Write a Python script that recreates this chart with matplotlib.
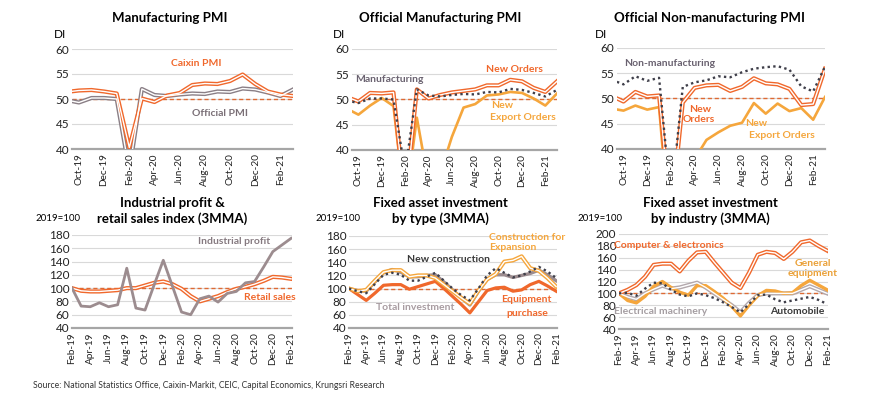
import numpy as np
import matplotlib
matplotlib.use('Agg')
import matplotlib.pyplot as plt

plt.rcParams['font.family'] = ['Lato', 'DejaVu Sans']

W, H = 870, 395

# ---- data ----
top_months = ['Sep-19', 'Oct-19', 'Nov-19', 'Dec-19', 'Jan-20', 'Feb-20', 'Mar-20',
              'Apr-20', 'May-20', 'Jun-20', 'Jul-20', 'Aug-20', 'Sep-20', 'Oct-20',
              'Nov-20', 'Dec-20', 'Jan-21', 'Feb-21', 'Mar-21']
bot_months = ['Feb-19', 'Mar-19', 'Apr-19', 'May-19', 'Jun-19', 'Jul-19', 'Aug-19',
              'Sep-19', 'Oct-19', 'Nov-19', 'Dec-19', 'Jan-20', 'Feb-20', 'Mar-20',
              'Apr-20', 'May-20', 'Jun-20', 'Jul-20', 'Aug-20', 'Sep-20', 'Oct-20',
              'Nov-20', 'Dec-20', 'Jan-21', 'Feb-21']

caixin_pmi = [51.4, 51.7, 51.8, 51.5, 51.1, 40.3, 50.1, 49.4, 50.7, 51.2, 52.8, 53.1,
              53.0, 53.6, 54.9, 53.0, 51.5, 50.9, 50.6]
official_pmi = [49.8, 49.3, 50.2, 50.2, 50.0, 35.7, 52.0, 50.8, 50.6, 50.9, 51.1, 51.0,
                51.5, 51.4, 52.1, 51.9, 51.3, 50.6, 51.9]
mfg_new_orders = [50.5, 49.6, 51.3, 51.2, 51.4, 29.3, 52.0, 50.2, 50.9, 51.4, 51.7, 52.0,
                  52.8, 52.8, 53.9, 53.6, 52.3, 51.5, 53.6]
mfg_export_orders = [48.2, 47.0, 48.8, 50.3, 48.7, 28.7, 46.4, 33.5, 35.3, 42.6, 48.4, 49.1,
                     50.8, 51.0, 51.5, 51.3, 50.2, 48.8, 51.2]
nonmfg_pmi = [53.7, 52.8, 54.4, 53.5, 54.1, 29.6, 52.3, 53.2, 53.6, 54.4, 54.2, 55.2,
              55.9, 56.2, 56.4, 55.7, 52.4, 51.4, 56.3]
nonmfg_new_orders = [50.5, 49.4, 51.3, 50.4, 50.6, 26.5, 49.2, 52.1, 52.6, 52.7, 51.5, 52.3,
                     54.0, 53.0, 52.8, 51.9, 48.7, 48.9, 55.9]
nonmfg_export_orders = [48.0, 47.6, 48.6, 47.8, 48.3, 20.8, 30.0, 38.0, 41.8, 43.3, 44.6, 45.2,
                        49.1, 47.0, 49.0, 47.5, 48.1, 45.8, 50.3]

industrial_profit = [100, 73, 72, 78, 72, 75, 130, 70, 67, 105, 142, 103, 64, 60, 84, 88,
                     79, 92, 95, 108, 110, 132, 155, 165, 175]
retail_sales = [100, 96, 95, 95, 96, 97, 100, 100, 104, 108, 110, 106, 99, 88, 80, 84,
                88, 94, 99, 102, 106, 111, 117, 116, 114]

fai_total = [100, 97, 96, 110, 124, 129, 125, 118, 118, 120, 121, 110, 98, 86, 75, 96,
             114, 121, 121, 117, 120, 123, 128, 121, 112]
fai_new_constr = [100, 96, 93, 107, 121, 124, 121, 112, 112, 118, 124, 112, 100, 90, 82, 100,
                  120, 131, 124, 117, 120, 126, 133, 126, 116]
fai_expansion = [100, 96, 98, 112, 125, 128, 128, 118, 120, 120, 116, 106, 96, 86, 77, 97,
                 114, 122, 141, 143, 149, 131, 127, 116, 103]
fai_equipment = [100, 91, 82, 93, 105, 106, 106, 99, 103, 107, 111, 100, 88, 76, 63, 80,
                 97, 101, 102, 96, 98, 106, 111, 104, 96]

fai_computer = [100, 106, 114, 128, 148, 150, 150, 137, 155, 169, 170, 152, 135, 118, 109, 135,
                165, 170, 168, 158, 170, 186, 189, 180, 172]
fai_general_eq = [100, 88, 84, 95, 112, 120, 110, 102, 97, 113, 113, 103, 92, 78, 62, 80,
                  96, 105, 104, 100, 101, 113, 122, 114, 106]
fai_electrical = [100, 94, 90, 100, 107, 113, 108, 110, 114, 118, 110, 100, 90, 80, 68, 84,
                  97, 100, 100, 100, 100, 106, 112, 106, 100]
fai_auto = [100, 101, 96, 108, 118, 117, 106, 98, 95, 100, 97, 92, 85, 77, 68, 82,
            97, 98, 90, 85, 88, 91, 94, 89, 82]

ORANGE = '#f0682c'
LIGHT = '#f5a63c'
TAUPE = '#9c8c8f'
DARK = '#3f3f4a'
LGRAY = '#b3a8ac'

fig = plt.figure(figsize=(W / 100, H / 100), dpi=100)


def px_axes(l, t, r, b):
    return fig.add_axes([l / W, 1 - b / H, (r - l) / W, (b - t) / H])


def ftext(x, y, s, **kw):
    kw.setdefault('ha', 'center')
    kw.setdefault('va', 'center')
    fig.text(x / W, 1 - y / H, s, **kw)


def style(ax, ylo, yhi, step, ref, labels, every, xlim):
    ax.set_ylim(ylo, yhi)
    ax.set_xlim(*xlim)
    ax.set_yticks(np.arange(ylo, yhi + 1, step))
    idx = np.arange(len(labels))
    ax.set_xticks(idx[every::2])
    ax.set_xticklabels([labels[i] for i in idx[every::2]], rotation=90, fontsize=7)
    ax.tick_params(length=0, labelsize=8.5, colors='#222222', pad=2)
    ax.tick_params(axis='x', labelsize=7.2, pad=3)
    ax.grid(axis='y', color='#d9d9d9', lw=0.8)
    ax.set_axisbelow(True)
    for s in ['top', 'right', 'left']:
        ax.spines[s].set_visible(False)
    ax.spines['bottom'].set_color('#a6a6a6')
    ax.spines['bottom'].set_linewidth(1.6)
    ax.axhline(ref, color='#de6a34', ls=(0, (3, 2)), lw=1.0, zorder=1.5)


def hollow(ax, x, y, color, w=3.0, inner=1.0):
    ax.plot(x, y, color=color, lw=w, zorder=3)
    ax.plot(x, y, color='white', lw=inner, zorder=3.1)


def solid(ax, x, y, color, w=2.0, z=3):
    ax.plot(x, y, color=color, lw=w, zorder=z)


def dotted(ax, x, y):
    ax.plot(x, y, color=DARK, lw=1.7, ls=(0, (1.0, 1.4)), dash_capstyle='butt', zorder=4)


xt = np.arange(len(top_months))
xb = np.arange(len(bot_months))
top_lim = (0.45, 18)
bot_lim = (0, 24.1)

# ---- Panel 1: Manufacturing PMI ----
ax1 = px_axes(72, 49, 293, 149)
style(ax1, 40, 60, 5, 50, top_months, 1, top_lim)
hollow(ax1, xt, official_pmi, '#8a7f86')
hollow(ax1, xt, caixin_pmi, ORANGE)
ftext(170, 18, 'Manufacturing PMI', fontsize=9.5, fontweight='bold')
ftext(54, 35, 'DI', fontsize=8.5, ha='left')
ftext(196, 63, 'Caixin PMI', fontsize=7.5, fontweight='bold', color=ORANGE)
ftext(220, 113, 'Official PMI', fontsize=7.5, fontweight='bold', color='#7a6f76')

# ---- Panel 2: Official Manufacturing PMI ----
ax2 = px_axes(352, 49, 557, 150)
style(ax2, 40, 60, 5, 50, top_months, 1, top_lim)
solid(ax2, xt, mfg_export_orders, LIGHT, 1.9)
hollow(ax2, xt, mfg_new_orders, ORANGE)
dotted(ax2, xt, official_pmi)
ftext(440, 18, 'Official Manufacturing PMI', fontsize=9.5, fontweight='bold')
ftext(333, 35, 'DI', fontsize=8.5, ha='left')
ftext(389, 80, 'Manufacturing', fontsize=7.5, fontweight='bold', color='#6a6270')
ftext(514, 70, 'New Orders', fontsize=7.5, fontweight='bold', color=ORANGE)
ftext(502, 106, 'New', fontsize=7.5, fontweight='bold', color=LIGHT)
ftext(523, 118, 'Export Orders', fontsize=7.5, fontweight='bold', color=LIGHT)

# ---- Panel 3: Official Non-manufacturing PMI ----
ax3 = px_axes(617, 48, 825, 149)
style(ax3, 40, 60, 5, 50, top_months, 1, top_lim)
solid(ax3, xt, nonmfg_export_orders, LIGHT, 1.9)
hollow(ax3, xt, nonmfg_new_orders, ORANGE)
dotted(ax3, xt, nonmfg_pmi)
ftext(710, 18, 'Official Non-manufacturing PMI', fontsize=9.5, fontweight='bold')
ftext(595, 35, 'DI', fontsize=8.5, ha='left')
ftext(670, 63, 'Non-manufacturing', fontsize=7.5, fontweight='bold', color='#6a6270')
ftext(700, 109, 'New', fontsize=7.5, fontweight='bold', color=ORANGE)
ftext(699, 120, 'Orders', fontsize=7.5, fontweight='bold', color=ORANGE)
ftext(756, 123, 'New', fontsize=7.5, fontweight='bold', color=LIGHT)
ftext(782, 135, 'Export Orders', fontsize=7.5, fontweight='bold', color=LIGHT)

# ---- Panel 4: Industrial profit & retail sales ----
ax4 = px_axes(72, 235, 292, 328)
style(ax4, 40, 180, 20, 100, bot_months, 0, bot_lim)
hollow(ax4, xb, retail_sales, ORANGE)
solid(ax4, xb, industrial_profit, TAUPE, 2.0, z=4)
ftext(172, 203, 'Industrial profit &', fontsize=9.5, fontweight='bold')
ftext(172, 219, 'retail sales index (3MMA)', fontsize=9.5, fontweight='bold')
ftext(36, 219, '2019=100', fontsize=7, ha='left')
ftext(234, 241, 'Industrial profit', fontsize=7.5, fontweight='bold', color='#867a80')
ftext(270, 298, 'Retail sales', fontsize=7.5, fontweight='bold', color=ORANGE)

# ---- Panel 5: FAI by type ----
ax5 = px_axes(349, 236, 557, 328)
style(ax5, 40, 180, 20, 100, bot_months, 0, bot_lim)
solid(ax5, xb, fai_equipment, ORANGE, 2.3)
solid(ax5, xb, fai_total, TAUPE, 2.4)
hollow(ax5, xb, fai_expansion, LIGHT, 3.0, 1.0)
dotted(ax5, xb, fai_new_constr)
ftext(440, 203, 'Fixed asset investment', fontsize=9.5, fontweight='bold')
ftext(440, 219, 'by type (3MMA)', fontsize=9.5, fontweight='bold')
ftext(316, 218, '2019=100', fontsize=7, ha='left')
ftext(449, 260, 'New construction', fontsize=7.5, fontweight='bold', color='#3a3a3a')
ftext(415, 308, 'Total investment', fontsize=7.5, fontweight='bold', color='#a89ca1')
ftext(489, 237, 'Construction for', fontsize=7.5, fontweight='bold', color=LIGHT, ha='left')
ftext(489, 248, 'Expansion', fontsize=7.5, fontweight='bold', color=LIGHT, ha='left')
ftext(526, 299, 'Equipment', fontsize=7.5, fontweight='bold', color=ORANGE)
ftext(527, 313, 'purchase', fontsize=7.5, fontweight='bold', color=ORANGE)

# ---- Panel 6: FAI by industry ----
ax6 = px_axes(619, 234, 828, 329)
style(ax6, 40, 200, 20, 100, bot_months, 0, bot_lim)
hollow(ax6, xb, fai_electrical, LGRAY, 3.0, 1.0)
solid(ax6, xb, fai_general_eq, LIGHT, 2.4)
hollow(ax6, xb, fai_computer, ORANGE)
dotted(ax6, xb, fai_auto)
ftext(710, 203, 'Fixed asset investment', fontsize=9.5, fontweight='bold')
ftext(710, 219, 'by industry (3MMA)', fontsize=9.5, fontweight='bold')
ftext(578, 218, '2019=100', fontsize=7, ha='left')
ftext(669, 246, 'Computer & electronics', fontsize=7.5, fontweight='bold', color=ORANGE)
ftext(813, 263, 'General', fontsize=7.5, fontweight='bold', color='#eaa037')
ftext(813, 273, 'equipment', fontsize=7.5, fontweight='bold', color='#eaa037')
ftext(661, 311, 'Electrical machinery', fontsize=7.5, fontweight='bold', color='#a59ea2')
ftext(797, 312, 'Automobile', fontsize=7.5, fontweight='bold', color='#3a3a3a')

ftext(33, 385, 'Source: National Statistics Office, Caixin-Markit, CEIC, Capital Economics, Krungsri Research',
      fontsize=6.2, ha='left', color='#333333')

fig.savefig('out.png', dpi=100)
